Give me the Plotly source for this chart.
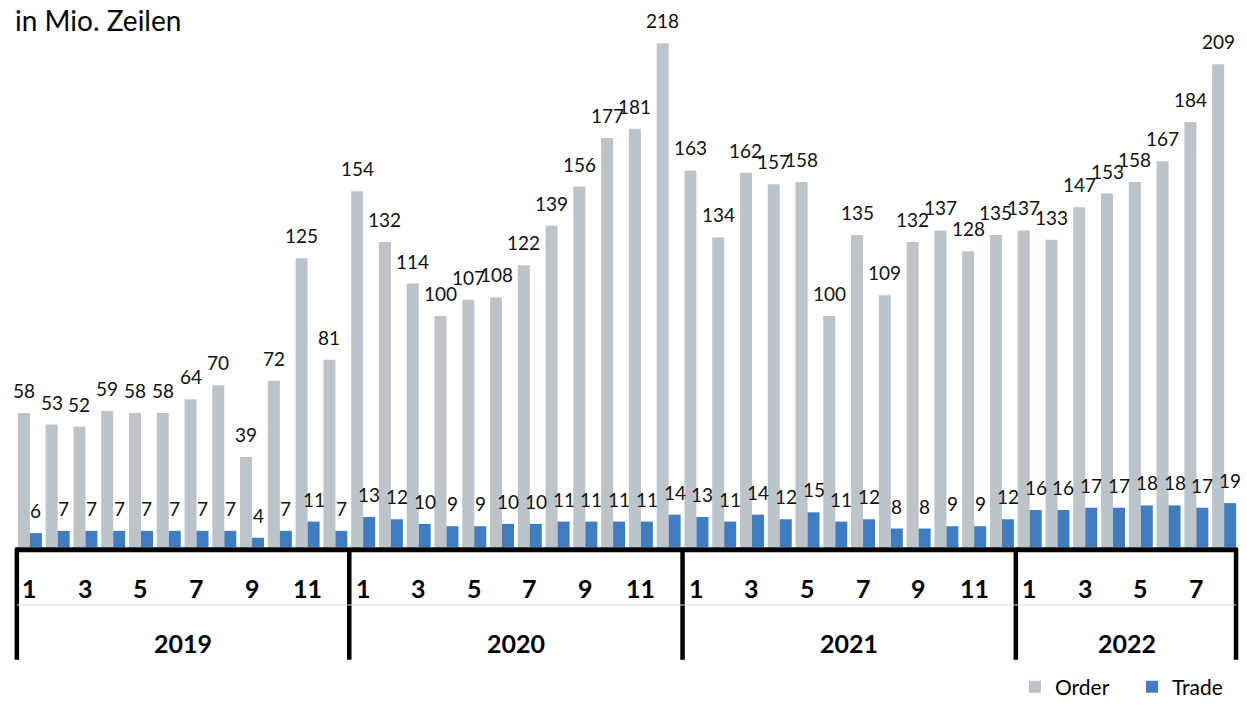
import plotly.graph_objects as go

# Daten: Monatswerte in Mio. Zeilen
jahre = ['2019', '2020', '2021', '2022']
monate_pro_jahr = [12, 12, 12, 8]

order = [58, 53, 52, 59, 58, 58, 64, 70, 39, 72, 125, 81,
         154, 132, 114, 100, 107, 108, 122, 139, 156, 177, 181, 218,
         163, 134, 162, 157, 158, 100, 135, 109, 132, 137, 128, 135,
         137, 133, 147, 153, 158, 167, 184, 209]
trade = [6, 7, 7, 7, 7, 7, 7, 7, 4, 7, 11, 7,
         13, 12, 10, 9, 9, 10, 10, 11, 11, 11, 11, 14,
         13, 11, 14, 12, 15, 11, 12, 8, 8, 9, 9, 12,
         16, 16, 17, 17, 18, 18, 17, 19]

monate = [m for n in monate_pro_jahr for m in range(1, n + 1)]
x = list(range(len(order)))

FONT = 'Lato'
GRAU = '#BCC4CA'
BLAU = '#407DC0'
BW = 0.432
X0, X1 = -0.5, len(x) - 0.5


def px(xv):
    # Datenkoordinate -> Paper-Koordinate
    return (xv - X0) / (X1 - X0)


fig = go.Figure()
fig.add_trace(go.Bar(x=x, y=order, width=BW, offset=-BW, name='Order',
                     marker=dict(color=GRAU, line=dict(width=0))))
fig.add_trace(go.Bar(x=x, y=trade, width=BW, offset=0, name='Trade',
                     marker=dict(color=BLAU, line=dict(width=0))))

annotations = []
# Wertbeschriftungen
for i in x:
    annotations.append(dict(x=i - BW / 2, y=order[i], text=str(order[i]), showarrow=False,
                            yanchor='bottom', yshift=9, font=dict(size=19, color='#111')))
    annotations.append(dict(x=i + BW / 2, y=trade[i], text=str(trade[i]), showarrow=False,
                            yanchor='bottom', yshift=9, font=dict(size=19, color='#111')))

# Monate (nur ungerade) und Jahre
for i, m in zip(x, monate):
    if m % 2 == 1:
        annotations.append(dict(x=i, y=-0.078, yref='paper', text='<b>%d</b>' % m, showarrow=False,
                                yanchor='middle', font=dict(size=25, color='#000')))

shapes = []
start = 0
grenzen = [-0.47]
for jahr, n in zip(jahre, monate_pro_jahr):
    annotations.append(dict(x=start + (n - 1) / 2, y=-0.182, yref='paper', text='<b>%s</b>' % jahr,
                            showarrow=False, yanchor='middle', font=dict(size=25, color='#000')))
    start += n
    grenzen.append(start - 0.5)
grenzen[-1] = len(x) - 0.57

for g in grenzen:
    shapes.append(dict(type='line', xref='paper', yref='paper', x0=px(g), x1=px(g), y0=-0.003, y1=-0.214,
                       line=dict(color='black', width=4.5)))
shapes.append(dict(type='line', xref='paper', yref='paper', x0=px(grenzen[0]), x1=px(grenzen[-1]),
                   y0=-0.110, y1=-0.110, line=dict(color='#D9D9D9', width=1)))
shapes.append(dict(type='line', xref='paper', yref='paper', x0=px(grenzen[0] - 0.06), x1=px(grenzen[-1] + 0.06),
                   y0=-0.005, y1=-0.005, line=dict(color='black', width=5)))

# Titel
annotations.append(dict(x=0, y=1, xref='paper', yref='paper', text='in Mio. Zeilen', showarrow=False,
                        xanchor='left', yanchor='middle', xshift=-3, font=dict(size=28, color='#000')))

fig.update_layout(
    width=1247, height=705,
    margin=dict(l=16, r=9, t=20, b=158, autoexpand=False),
    plot_bgcolor='white', paper_bgcolor='white',
    font=dict(family=FONT, color='#000'),
    xaxis=dict(range=[X0, X1], showticklabels=False, showgrid=False,
               zeroline=False, showline=False, ticks=''),
    yaxis=dict(range=[0, 228.1], visible=False),
    showlegend=True,
    legend=dict(orientation='h', x=0.8175, xanchor='left', y=-0.266, yanchor='middle',
                entrywidth=72, entrywidthmode='pixels',
                font=dict(size=21, color='#000'), traceorder='normal'),
    annotations=annotations,
    shapes=shapes,
)

fig.write_html("out.html", config={'displayModeBar': False},
               post_script="document.body.style.margin='0';")
